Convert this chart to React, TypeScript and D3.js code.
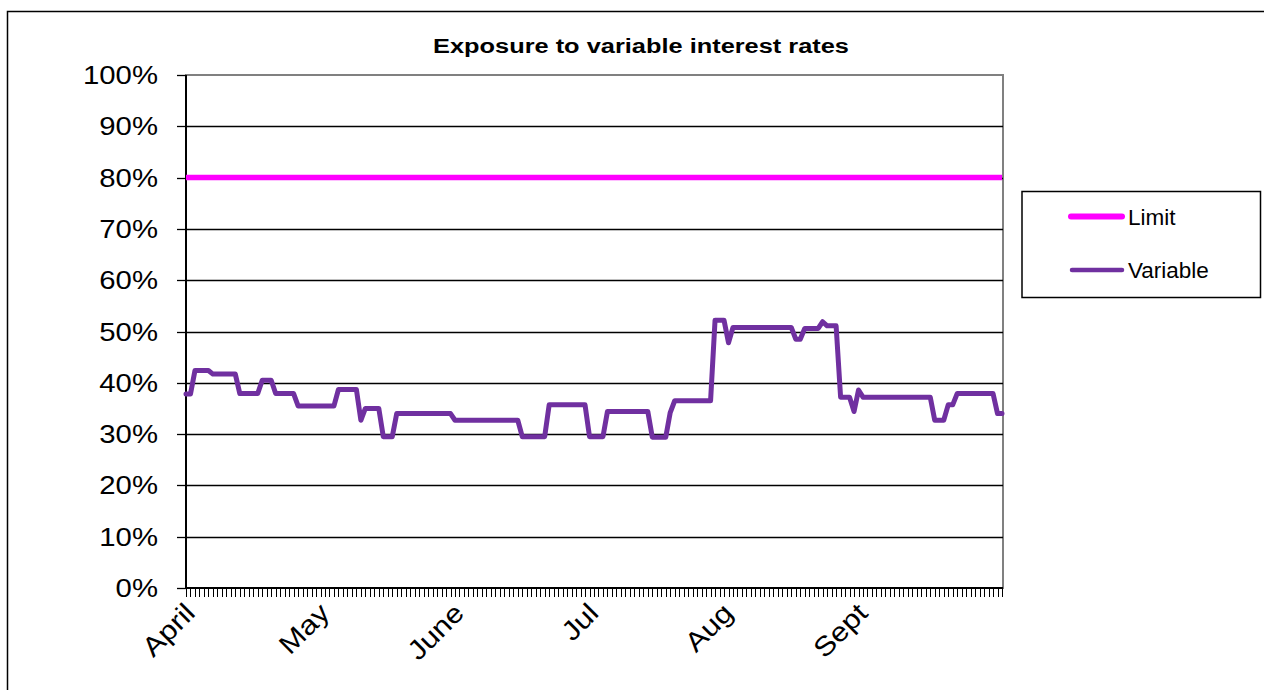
import React from "react";
import * as d3 from "d3";

// Categories: one per calendar day, 1 April – 30 September
const days: Date[] = d3.timeDay.range(new Date(2009, 3, 1), new Date(2009, 9, 1));

// Category labels are shown on every 30th category
const xLabelEvery = 30;
const xLabels = ["April", "May", "June", "Jul", "Aug", "Sept"];

// Series (percent)
const limitValue = 80;
const variableApr = [37.8, 37.8, 42.4, 42.4, 42.4, 42.4, 41.7, 41.7, 41.7, 41.7, 41.7, 41.7, 37.9, 37.9, 37.9, 37.9, 37.9, 40.5, 40.5, 40.5, 37.9, 37.9, 37.9, 37.9, 37.9, 35.5, 35.5, 35.5, 35.5, 35.5];
const variableMay = [35.5, 35.5, 35.5, 35.5, 38.7, 38.7, 38.7, 38.7, 38.7, 32.7, 35.0, 35.0, 35.0, 35.0, 29.5, 29.5, 29.5, 34.0, 34.0, 34.0, 34.0, 34.0, 34.0, 34.0, 34.0, 34.0, 34.0, 34.0, 34.0, 34.0, 32.7];
const variableJun = [32.7, 32.7, 32.7, 32.7, 32.7, 32.7, 32.7, 32.7, 32.7, 32.7, 32.7, 32.7, 32.7, 32.7, 29.5, 29.5, 29.5, 29.5, 29.5, 29.5, 35.7, 35.7, 35.7, 35.7, 35.7, 35.7, 35.7, 35.7, 35.7, 29.5];
const variableJul = [29.5, 29.5, 29.5, 34.4, 34.4, 34.4, 34.4, 34.4, 34.4, 34.4, 34.4, 34.4, 34.4, 29.4, 29.4, 29.4, 29.4, 34.2, 36.5, 36.5, 36.5, 36.5, 36.5, 36.5, 36.5, 36.5, 36.5, 52.2, 52.2, 52.2, 47.8];
const variableAug = [50.8, 50.8, 50.8, 50.8, 50.8, 50.8, 50.8, 50.8, 50.8, 50.8, 50.8, 50.8, 50.8, 50.8, 48.5, 48.5, 50.6, 50.6, 50.6, 50.6, 51.9, 51.1, 51.1, 51.1, 37.2, 37.2, 37.2, 34.4, 38.6, 37.2, 37.2];
const variableSep = [37.2, 37.2, 37.2, 37.2, 37.2, 37.2, 37.2, 37.2, 37.2, 37.2, 37.2, 37.2, 37.2, 37.2, 32.7, 32.7, 32.7, 35.7, 35.7, 37.9, 37.9, 37.9, 37.9, 37.9, 37.9, 37.9, 37.9, 37.9, 34.0, 34.0];
const variable = [...variableApr, ...variableMay, ...variableJun, ...variableJul, ...variableAug, ...variableSep];

const yTicks = [0, 10, 20, 30, 40, 50, 60, 70, 80, 90, 100];

const FONT = "'Liberation Sans', Arial, sans-serif";
const LIMIT_COLOR = "#FF00FF";
const VAR_COLOR = "#7030A0";

export default function App() {
  const W = 1264, H = 690;
  const left = 186, right = 1002, top = 75, bottom = 588;
  const idx = d3.range(days.length);
  const x = d3.scalePoint<number>().domain(idx).range([left, right]);
  const y = d3.scaleLinear().domain([0, 100]).range([bottom, top]);

  const lineGen = d3.line<number>().x((_, i) => x(i) as number).y((d) => y(d));
  const limitSeries = days.map(() => limitValue);

  return (
    <svg width={W} height={H} style={{ position: "absolute", left: 0, top: 0, background: "#fff" }} fontFamily={FONT}>
      <rect x={0} y={0} width={W} height={H} fill="#fff" />
      {/* chart border */}
      <rect x={7.5} y={11.5} width={1300} height={800} fill="none" stroke="#000" strokeWidth={1.5} />
      {/* title */}
      <text x={641} y={53} textAnchor="middle" fontWeight="bold" fontSize={20} textLength={416} lengthAdjust="spacingAndGlyphs">
        Exposure to variable interest rates
      </text>
      {/* plot area border */}
      <rect x={left} y={top} width={right - left + 1} height={bottom - top} fill="none" stroke="#808080" strokeWidth={2} />
      {/* gridlines */}
      {yTicks.filter((t) => t > 0 && t < 100).map((t) => (
        <line key={t} x1={left} x2={right + 1} y1={Math.round(y(t)) + 0.5} y2={Math.round(y(t)) + 0.5} stroke="#000" strokeWidth={1.3} />
      ))}
      {/* y axis */}
      <line x1={left} x2={left} y1={top} y2={bottom} stroke="#000" strokeWidth={2} />
      {yTicks.map((t) => (
        <g key={t}>
          <line x1={left - 9} x2={left} y1={Math.round(y(t)) + 0.5} y2={Math.round(y(t)) + 0.5} stroke="#000" strokeWidth={1.3} />
          <text transform={`translate(158,${y(t) + 9}) scale(1.15,1)`} textAnchor="end" fontSize={25.5} fill="#000">
            {t}%
          </text>
        </g>
      ))}
      {/* x axis */}
      <line x1={left} x2={right + 1} y1={bottom} y2={bottom} stroke="#000" strokeWidth={2} />
      {idx.map((i) => (
        <line key={i} x1={Math.round(x(i) as number) + 0.5} x2={Math.round(x(i) as number) + 0.5} y1={bottom} y2={bottom + 9} stroke="#000" strokeWidth={1} />
      ))}
      {idx.filter((i) => i % xLabelEvery === 0).map((i, k) => (
        <text key={i} transform={`translate(${(x(i) as number) + 4},${bottom + 20}) rotate(-45) scale(1.14,1)`} textAnchor="end" fontSize={27} dy="0.35em" fill="#000">
          {xLabels[k]}
        </text>
      ))}
      {/* series */}
      <path d={lineGen(limitSeries) ?? ""} fill="none" stroke={LIMIT_COLOR} strokeWidth={5.5} strokeLinejoin="round" />
      <path d={lineGen(variable) ?? ""} fill="none" stroke={VAR_COLOR} strokeWidth={5} strokeLinejoin="round" strokeLinecap="round" />
      {/* legend */}
      <rect x={1022} y={191.5} width={238.5} height={106} fill="#fff" stroke="#000" strokeWidth={1.5} />
      <line x1={1071} x2={1122} y1={216.5} y2={216.5} stroke={LIMIT_COLOR} strokeWidth={6} strokeLinecap="round" />
      <text x={1128} y={225} fontSize={22.5} fill="#000">Limit</text>
      <line x1={1072} x2={1122} y1={270} y2={270} stroke={VAR_COLOR} strokeWidth={4.5} strokeLinecap="round" />
      <text x={1128} y={278} fontSize={22.5} fill="#000">Variable</text>
    </svg>
  );
}
